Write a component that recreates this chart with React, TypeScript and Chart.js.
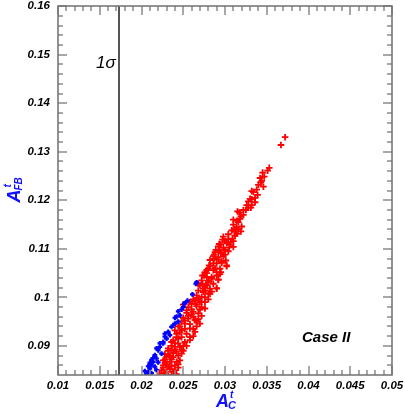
import React, { useEffect, useRef } from 'react';
import { Chart, registerables } from 'chart.js';
Chart.register(...registerables);

const xTicks = [0.01, 0.015, 0.02, 0.025, 0.03, 0.035, 0.04, 0.045, 0.05];
const xTickLabels = ['0.01', '0.015', '0.02', '0.025', '0.03', '0.035', '0.04', '0.045', '0.05'];
const yTicks = [0.09, 0.1, 0.11, 0.12, 0.13, 0.14, 0.15, 0.16];
const yTickLabels = ['0.09', '0.1', '0.11', '0.12', '0.13', '0.14', '0.15', '0.16'];
const xMinorTicks = [0.011, 0.012, 0.013, 0.014, 0.016, 0.017, 0.018, 0.019, 0.021, 0.022, 0.023, 0.024, 0.026, 0.027, 0.028, 0.029, 0.031, 0.032, 0.033, 0.034, 0.036, 0.037, 0.038, 0.039, 0.041, 0.042, 0.043, 0.044, 0.046, 0.047, 0.048, 0.049];
const yMinorTicks = [0.086, 0.088, 0.092, 0.094, 0.096, 0.098, 0.102, 0.104, 0.106, 0.108, 0.112, 0.114, 0.116, 0.118, 0.122, 0.124, 0.126, 0.128, 0.132, 0.134, 0.136, 0.138, 0.142, 0.144, 0.146, 0.148, 0.152, 0.154, 0.156, 0.158];
const xRange = [0.01, 0.05];
const yRange = [0.084, 0.16];
const sigmaX = 0.0173;

const redPoints: [number, number][] = [
  [0.0372, 0.1330], [0.0367, 0.1314], [0.0353, 0.1267], [0.0351, 0.1261], [0.0345, 0.1257],
  [0.0347, 0.1249], [0.0342, 0.1246], [0.0343, 0.1237], [0.0346, 0.1228], [0.0332, 0.1219],
  [0.0334, 0.1217], [0.0339, 0.1211], [0.0330, 0.1203], [0.0332, 0.1202], [0.0332, 0.1190],
  [0.0331, 0.1185], [0.0325, 0.1180], [0.0315, 0.1177], [0.0317, 0.1175], [0.0319, 0.1167],
  [0.0310, 0.1160], [0.0312, 0.1141], [0.0314, 0.1144], [0.0320, 0.1146], [0.0319, 0.1136],
  [0.0314, 0.1131], [0.0312, 0.1127], [0.0309, 0.1121], [0.0310, 0.1116], [0.0297, 0.1119],
  [0.0307, 0.1114], [0.0295, 0.1109], [0.0293, 0.1110], [0.0305, 0.1103], [0.0310, 0.1104],
  [0.0289, 0.1098], [0.0287, 0.1088], [0.0295, 0.1091], [0.0292, 0.1083], [0.0296, 0.1071],
  [0.0301, 0.1076], [0.0302, 0.1066], [0.0282, 0.1077], [0.0281, 0.1066], [0.0288, 0.1060],
  [0.0290, 0.1052], [0.0295, 0.1052], [0.0278, 0.1056], [0.0275, 0.1045], [0.0284, 0.1042],
  [0.0292, 0.1036], [0.0280, 0.1034], [0.0273, 0.1028], [0.0290, 0.1019], [0.0276, 0.1014],
  [0.0282, 0.1007],
  [0.0293, 0.1097], [0.0288, 0.1093], [0.0295, 0.1093], [0.0287, 0.1080], [0.0296, 0.1074],
  [0.0302, 0.1064], [0.0294, 0.1059], [0.0286, 0.1056], [0.0280, 0.1059], [0.0276, 0.1052],
  [0.0273, 0.1045], [0.0278, 0.1042], [0.0284, 0.1038], [0.0292, 0.1037], [0.0272, 0.1035],
  [0.0280, 0.1031], [0.0270, 0.1025], [0.0276, 0.1021], [0.0282, 0.1018], [0.0290, 0.1018],
  [0.0268, 0.1014], [0.0274, 0.1011], [0.0280, 0.1008], [0.0266, 0.1004], [0.0272, 0.1001],
  [0.0264, 0.0994], [0.0270, 0.0990], [0.0260, 0.0987],
  [0.0258, 0.0990], [0.0265, 0.0986], [0.0272, 0.0991], [0.0276, 0.0977], [0.0254, 0.0973],
  [0.0262, 0.0970], [0.0268, 0.0967], [0.0256, 0.0956], [0.0264, 0.0953], [0.0270, 0.0946],
  [0.0252, 0.0946], [0.0258, 0.0936], [0.0264, 0.0929], [0.0248, 0.0932], [0.0254, 0.0925],
  [0.0244, 0.0915], [0.0252, 0.0908], [0.0240, 0.0905], [0.0246, 0.0898], [0.0236, 0.0891],
  [0.0242, 0.0888], [0.0248, 0.0884], [0.0232, 0.0881], [0.0238, 0.0877], [0.0228, 0.0871],
  [0.0234, 0.0867], [0.0242, 0.0867], [0.0226, 0.0860], [0.0232, 0.0857], [0.0224, 0.0850],
  [0.0230, 0.0847], [0.0238, 0.0847], [0.0222, 0.0843],
  [0.0250, 0.0985], [0.0256, 0.0980], [0.0266, 0.0982], [0.0270, 0.0975], [0.0260, 0.0965],
  [0.0250, 0.0958], [0.0262, 0.0960], [0.0272, 0.0962], [0.0248, 0.0950], [0.0258, 0.0945],
  [0.0266, 0.0940], [0.0246, 0.0940], [0.0252, 0.0935], [0.0262, 0.0920], [0.0242, 0.0925],
  [0.0248, 0.0918], [0.0258, 0.0912], [0.0238, 0.0912], [0.0244, 0.0905], [0.0250, 0.0900],
  [0.0236, 0.0900], [0.0240, 0.0893], [0.0248, 0.0892], [0.0232, 0.0890], [0.0238, 0.0885],
  [0.0244, 0.0880], [0.0230, 0.0878], [0.0236, 0.0872], [0.0228, 0.0865], [0.0240, 0.0860],
  [0.0226, 0.0855], [0.0234, 0.0852], [0.0244, 0.0855], [0.0228, 0.0845], [0.0236, 0.0840],
  [0.0232, 0.0838], [0.0242, 0.0842], [0.0226, 0.0838],
  [0.0268, 0.1028], [0.0278, 0.1025], [0.0286, 0.1028], [0.0274, 0.1018], [0.0284, 0.1012],
  [0.0276, 0.1000], [0.0280, 0.0996], [0.0268, 0.0998], [0.0278, 0.1050], [0.0290, 0.1045],
  [0.0282, 0.1065], [0.0290, 0.1070], [0.0298, 0.1085], [0.0286, 0.1085], [0.0300, 0.1098],
  [0.0292, 0.1105], [0.0302, 0.1112], [0.0298, 0.1125], [0.0304, 0.1130], [0.0308, 0.1138],
  [0.0310, 0.1150], [0.0316, 0.1155], [0.0322, 0.1170], [0.0326, 0.1190], [0.0328, 0.1198],
  [0.0250, 0.0890], [0.0254, 0.0900], [0.0246, 0.0870], [0.0240, 0.0850], [0.0244, 0.0862],
  [0.0236, 0.0858], [0.0230, 0.0862], [0.0226, 0.0870], [0.0234, 0.0880], [0.0228, 0.0883],
  [0.0232, 0.0895], [0.0240, 0.0898], [0.0236, 0.0908], [0.0242, 0.0918], [0.0246, 0.0928],
  [0.0240, 0.0932], [0.0244, 0.0940], [0.0252, 0.0952], [0.0256, 0.0962], [0.0260, 0.0975],
  [0.0254, 0.0968], [0.0258, 0.0918], [0.0262, 0.0935], [0.0266, 0.0950], [0.0268, 0.0955],
  [0.0272, 0.0980], [0.0276, 0.0990], [0.0262, 0.0996],
  [0.0286, 0.1070], [0.0292, 0.1078], [0.0300, 0.1088], [0.0304, 0.1095], [0.0298, 0.1102],
  [0.0306, 0.1108], [0.0304, 0.1120], [0.0300, 0.1116], [0.0312, 0.1135], [0.0316, 0.1140],
  [0.0314, 0.1158], [0.0318, 0.1162], [0.0322, 0.1180], [0.0328, 0.1185], [0.0336, 0.1205],
  [0.0338, 0.1222], [0.0340, 0.1232], [0.0344, 0.1240], [0.0336, 0.1196], [0.0294, 0.1048],
];

const bluePoints: [number, number][] = [
  [0.0265, 0.1028], [0.0266, 0.1031], [0.0261, 0.1006], [0.0255, 0.0993], [0.0251, 0.0987],
  [0.0252, 0.0988], [0.0250, 0.0980], [0.0248, 0.0975], [0.0244, 0.0971], [0.0246, 0.0963],
  [0.0242, 0.0960], [0.0240, 0.0958], [0.0240, 0.0946], [0.0236, 0.0939], [0.0232, 0.0929],
  [0.0234, 0.0922], [0.0230, 0.0915], [0.0228, 0.0919], [0.0226, 0.0908], [0.0226, 0.0905],
  [0.0222, 0.0898], [0.0220, 0.0891], [0.0224, 0.0884], [0.0216, 0.0881], [0.0218, 0.0874],
  [0.0214, 0.0867], [0.0212, 0.0860], [0.0216, 0.0857], [0.0210, 0.0853], [0.0208, 0.0846],
  [0.0206, 0.0842], [0.0212, 0.0844], [0.0218, 0.0850], [0.0244, 0.0950], [0.0238, 0.0942],
  [0.0228, 0.0925], [0.0222, 0.0905], [0.0218, 0.0895], [0.0214, 0.0875], [0.0220, 0.0866],
  [0.0210, 0.0865], [0.0204, 0.0848], [0.0208, 0.0858], [0.0212, 0.0871],
];

const FONT = "'Liberation Sans', Arial, sans-serif";

const decorPlugin = {
  id: 'decor',
  beforeDatasetsDraw(chart: any) {
    const { ctx, chartArea, scales } = chart;
    const xs = scales.x;
    ctx.save();
    ctx.fillStyle = '#555';
    const sx = Math.round(xs.getPixelForValue(sigmaX));
    ctx.fillRect(sx - 1, chartArea.top, 2, chartArea.bottom - chartArea.top);
    ctx.fillStyle = '#000';
    ctx.font = `italic 17px ${FONT}`;
    ctx.textBaseline = 'alphabetic';
    ctx.fillText('1σ', sx - 23, chartArea.top + 62);
    ctx.restore();
  },
  afterDraw(chart: any) {
    const ctx: CanvasRenderingContext2D = chart.ctx;
    const { x: xs, y: ys } = chart.scales;
    const ca = chart.chartArea;
    const left = Math.round(ca.left);
    const right = Math.round(ca.right);
    const top = Math.round(ca.top);
    const bottom = Math.round(ca.bottom);
    ctx.save();
    ctx.strokeStyle = '#8c8c8c';
    ctx.lineWidth = 1.5;
    ctx.beginPath();
    const tickX = (v: number, len: number) => {
      const px = Math.round(xs.getPixelForValue(v));
      ctx.moveTo(px, bottom);
      ctx.lineTo(px, bottom - len);
      ctx.moveTo(px, top);
      ctx.lineTo(px, top + len);
    };
    const tickY = (v: number, len: number) => {
      const py = Math.round(ys.getPixelForValue(v));
      ctx.moveTo(left, py);
      ctx.lineTo(left + len, py);
      ctx.moveTo(right, py);
      ctx.lineTo(right - len, py);
    };
    for (const v of xMinorTicks) tickX(v, 5);
    for (const v of xTicks) tickX(v, 9);
    for (const v of yMinorTicks) tickY(v, 5);
    for (const v of yTicks) tickY(v, 9);
    ctx.stroke();
    // frame
    ctx.lineWidth = 1.5;
    ctx.strokeStyle = '#707070';
    ctx.strokeRect(left, top, right - left, bottom - top);

    // Case II
    ctx.fillStyle = '#000';
    ctx.textBaseline = 'alphabetic';
    ctx.font = `bold italic 15px ${FONT}`;
    ctx.fillText('Case II', right - 90, bottom - 33);

    // x title
    ctx.fillStyle = '#1010ff';
    const cx = (left + right) / 2;
    ctx.font = `bold italic 18px ${FONT}`;
    const ax = cx - 9;
    const ay = bottom + 32;
    ctx.fillText('A', ax, ay);
    const aw = ctx.measureText('A').width;
    ctx.font = `bold italic 10px ${FONT}`;
    ctx.fillText('t', ax + aw + 1, ay - 9);
    ctx.font = `bold italic 11px ${FONT}`;
    ctx.fillText('C', ax + aw - 1, ay + 2);

    // y title
    ctx.save();
    const cy = (top + bottom) / 2;
    ctx.translate(20, cy + 12);
    ctx.rotate(-Math.PI / 2);
    ctx.font = `bold italic 18px ${FONT}`;
    ctx.fillText('A', 0, 0);
    const aw2 = ctx.measureText('A').width;
    ctx.font = `bold italic 10px ${FONT}`;
    ctx.fillText('t', aw2 + 2, -9);
    ctx.fillText('FB', aw2 - 1, 2);
    ctx.restore();

    ctx.restore();
  },
};

export default function App() {
  const ref = useRef<HTMLCanvasElement | null>(null);
  useEffect(() => {
    if (!ref.current) return;
    const tickFont = { family: FONT, size: 11.5, style: 'italic' as const, weight: 'bold' as const };
    const chart = new Chart(ref.current, {
      type: 'scatter',
      data: {
        datasets: [
          {
            data: bluePoints.map(([x, y]) => ({ x, y })),
            pointStyle: 'cross',
            radius: 2.4,
            borderWidth: 2.2,
            borderColor: '#0000ff',
            backgroundColor: '#0000ff',
            order: 0,
            clip: 0,
          },
          {
            data: redPoints.map(([x, y]) => ({ x, y })),
            pointStyle: 'cross',
            radius: 3.3,
            borderWidth: 1.8,
            borderColor: '#ff0000',
            backgroundColor: '#ff0000',
            order: 1,
            clip: 0,
          },
        ],
      },
      options: {
        animation: false,
        responsive: false,
        maintainAspectRatio: false,
        events: [],
        layout: { padding: { left: 0, right: 13, top: 5, bottom: 0 } },
        plugins: { legend: { display: false }, tooltip: { enabled: false } },
        scales: {
          x: {
            type: 'linear',
            min: xRange[0],
            max: xRange[1],
            afterBuildTicks: (s: any) => {
              s.ticks = xTicks.map((v) => ({ value: v }));
            },
            afterFit: (s: any) => {
              s.height = 39;
              s.paddingLeft = 0;
              s.paddingRight = 0;
            },
            grid: { display: false, drawTicks: false },
            border: { display: false },
            ticks: {
              autoSkip: false,
              maxRotation: 0,
              minRotation: 0,
              padding: 4,
              color: '#000',
              font: tickFont,
              callback: (_v: any, i: number) => xTickLabels[i],
            },
          },
          y: {
            type: 'linear',
            min: yRange[0],
            max: yRange[1],
            afterBuildTicks: (s: any) => {
              s.ticks = yTicks.map((v) => ({ value: v }));
            },
            afterFit: (s: any) => {
              s.width = 58;
              s.paddingTop = 0;
              s.paddingBottom = 0;
            },
            grid: { display: false, drawTicks: false },
            border: { display: false },
            ticks: {
              autoSkip: false,
              padding: 8,
              color: '#000',
              font: tickFont,
              callback: (_v: any, i: number) => yTickLabels[i],
            },
          },
        },
      },
      plugins: [decorPlugin],
    });
    return () => chart.destroy();
  }, []);
  return (
    <div style={{ position: 'absolute', left: 0, top: 0, width: 405, height: 414, background: '#fff' }}>
      <canvas ref={ref} width={405} height={414} style={{ display: 'block' }} />
    </div>
  );
}
